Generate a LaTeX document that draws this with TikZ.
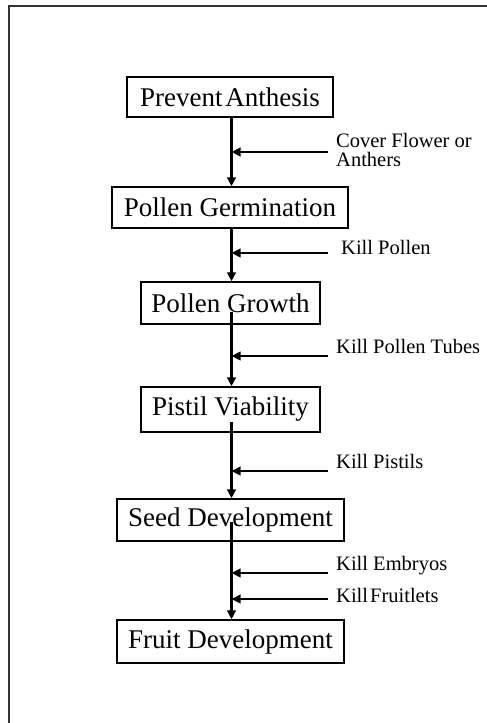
\documentclass[tikz,border=0pt]{standalone}
\usepackage{fontspec}
\setmainfont{Liberation Serif}
\usetikzlibrary{arrows.meta,calc}
\begin{document}
\begin{tikzpicture}[x=1pt,y=1pt,
  stagebox/.style={draw=black,line width=1.3pt,inner sep=0pt,align=center,
    font=\fontsize{27}{30}\selectfont},
  killlabel/.style={anchor=base west,inner sep=0pt,align=left,
    font=\fontsize{20.5}{16}\selectfont},
  flow/.style={line width=2.3pt,-{Triangle[length=9pt,width=8.5pt]}},
  frameline/.style={line width=2.2pt,draw=black!80}]
\useasboundingbox (0,0) rectangle (487,-723);
\draw[frameline] (487,-6) -- (9,-6) -- (9,-723);

\node[stagebox,minimum width=206pt,minimum height=40pt] (pa) at (230,-97) {Prevent{\hspace{0.1em}}Anthesis};
\node[stagebox,minimum width=236pt,minimum height=41pt] (pgm) at (230,-207.5) {Pollen Germination};
\node[stagebox,minimum width=179pt,minimum height=42pt] (pgr) at (230.5,-303) {Pollen Growth};
\node[stagebox,minimum width=179pt,minimum height=45pt] (pv) at (230.5,-409.5) {Pistil Viability};
\node[stagebox,minimum width=227pt,minimum height=42pt] (sd) at (230.5,-520) {Seed Development};
\node[stagebox,minimum width=227pt,minimum height=43pt] (fd) at (230.5,-641.5) {Fruit Development};

\coordinate (t1) at (231.5,-117);
\coordinate (t2) at (231.5,-228);
\coordinate (t3) at (231.5,-312);
\coordinate (t4) at (231.5,-422);
\coordinate (t5) at (231.5,-522);
\draw[flow] (t1) -- (t1 |- pgm.north);
\draw[flow] (t2) -- (t2 |- pgr.north);
\draw[flow] (t3) -- (t3 |- pv.north);
\draw[flow] (t4) -- (t4 |- sd.north);
\draw[flow] (t5) -- (t5 |- fd.north);

\node[killlabel] (l1) at (336,-166) {Cover Flower or\\[3pt]Anthers};
\node[killlabel] (l2) at (341,-254) {Kill Pollen};
\node[killlabel] (l3) at (336,-353) {Kill Pollen Tubes};
\node[killlabel] (l4) at (336,-468) {Kill Pistils};
\node[killlabel] (l5) at (336,-570) {Kill Embryos};
\node[killlabel] (l6) at (336,-602) {Kill{\hspace{0.1em}}Fruitlets};

\coordinate (h1) at (328,-152);
\coordinate (h2) at (328,-253);
\coordinate (h3) at (328,-356);
\coordinate (h4) at (328,-471);
\coordinate (h5) at (328,-573);
\coordinate (h6) at (328,-599);
\draw[flow] (h1) -- (h1 -| t1);
\draw[flow] (h2) -- (h2 -| t2);
\draw[flow] (h3) -- (h3 -| t3);
\draw[flow] (h4) -- (h4 -| t4);
\draw[flow] (h5) -- (h5 -| t5);
\draw[flow] (h6) -- (h6 -| t5);
\end{tikzpicture}
\end{document}
